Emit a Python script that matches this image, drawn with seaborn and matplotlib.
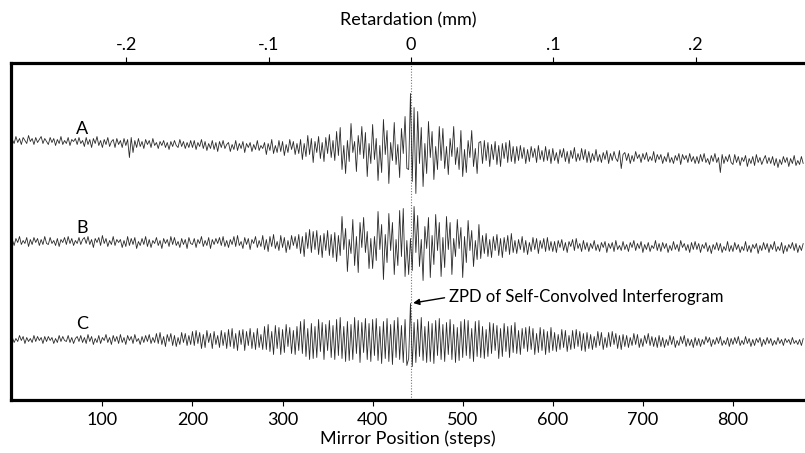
import numpy as np
import pandas as pd
import matplotlib
matplotlib.use("Agg")
import matplotlib.pyplot as plt
import seaborn as sns

# ---------------- data ----------------
# mirror positions, sampled every 2 steps (0 .. 878)
steps = np.arange(0, 880, 2)

# zero path difference and step -> retardation scale
zpd_step = 442.5
steps_per_mm = 1580.0
ret_ticks = [-0.2, -0.1, 0.0, 0.1, 0.2]
ret_labels = ["-.2", "-.1", "0", ".1", ".2"]
step_ticks = [100, 200, 300, 400, 500, 600, 700, 800]

# baseline level of each trace per 40-step block (22 blocks)
a_level = [260, 259, 258, 257, 256, 255, 254, 253, 252, 251, 250,
           249, 248, 247, 246, 245, 244, 243, 242, 241, 240, 239]
b_level = [159, 159, 159, 158, 158, 158, 158, 157, 157, 157, 156,
           156, 156, 155, 155, 155, 154, 154, 154, 153, 153, 153]
c_level = [61, 61, 61, 61, 61, 61, 61, 61, 61, 61, 60,
           60, 60, 60, 60, 60, 60, 60, 59, 59, 59, 59]

# interferogram A: deviations from baseline, 20 samples per 40-step block
a_signal = """
1 -3 4 -2 2 -4 3 0 -3 5 -1 2 -4 3 -2 1 4 -3 2 -1
-3 4 -1 3 -4 2 -2 5 -3 1 -2 4 -4 2 0 3 -3 4 -2 1
-4 5 -2 3 -5 4 -1 6 -3 2 -5 3 -2 5 -4 1 3 -5 4 -2
3 -4 5 -2 4 -14 6 -9 3 -4 5 -3 2 -5 4 -1 3 -4 5 -2
2 -4 3 -1 4 -3 2 -5 3 -2 4 -1 -3 5 -2 3 -4 2 -3 4
-2 5 -4 3 -1 6 -3 4 -5 2 -3 5 -4 3 -6 4 -2 5 -3 1
4 -5 2 -3 6 -4 3 -2 5 -6 3 -1 4 -5 2 -3 6 -4 1 -2
5 -7 4 -3 8 -6 2 -5 7 -4 6 -8 3 -5 8 -2 6 -7 4 -6
9 -11 5 -8 13 -6 10 -14 7 -4 12 -10 6 -13 11 -5 14 -9 8 -12
18 -6 22 -20 4 -24 9 -12 26 -3 8 -22 14 -5 23 -9 17 -27 6 -14
26 -9 12 -30 5 -22 31 -4 20 -33 8 -10 28 -14 6 -27 22 -3 34 -18
-18 58 -30 44 -42 40 -12 24 -35 8 -22 30 -6 20 -28 5 -18 25 -9 23
-16 6 -22 14 -4 26 -12 5 -17 22 -24 3 -20 12 -5 22 -14 4 -21 10
12 -10 13 -7 11 -13 9 -6 12 -11 8 -13 10 -5 11 -9 13 -8 7 -10
8 -6 9 -4 7 -9 5 -7 8 -3 6 -8 9 -5 4 -7 8 -6 5 -9
7 -5 3 -8 6 -2 7 -6 4 -8 5 -3 8 -6 2 -5 7 -4 6 -7
5 -6 3 -4 7 -5 2 -6 4 -3 6 -7 3 -4 5 -2 -5 6 -12 2
5 -3 4 -6 2 -4 6 -1 3 -5 4 -2 5 -4 1 -3 6 -5 3 -2
4 -5 2 -3 6 -4 1 -5 3 -2 5 -6 4 -1 3 -4 5 -3 2 -5
3 -4 5 -2 6 -3 1 -5 4 -2 6 -3 2 -13 5 -4 3 -2 5 -3
-4 6 -2 4 -5 3 -1 5 -6 2 -3 4 -5 6 -2 3 -4 1 5 -3
4 -2 5 -4 3 -6 2 -3 5 -1 4 -5 3 -2 6 -4 1 -3 5 -2
"""

# interferogram B
b_signal = """
2 -4 3 -1 5 -3 1 -2 4 -5 2 -3 4 -1 3 -4 2 -3 5 -2
-3 4 -2 1 -4 3 -5 2 -1 4 -3 5 -2 3 -4 1 -2 4 -3 2
4 -2 5 -3 2 -6 3 -1 4 -4 6 -2 3 -5 1 -3 5 -4 2 -1
3 -5 2 -4 6 -3 4 -2 5 -6 1 -3 4 -2 6 -4 3 -5 2 -1
5 -3 2 -6 4 -1 3 -4 6 -2 5 -3 1 -5 4 -2 3 -6 5 -1
-2 4 -5 3 -1 6 -4 2 -3 5 -6 3 -2 4 -1 5 -3 6 -4 2
-5 3 -2 6 -4 7 -3 1 -6 5 -2 4 -7 3 -1 6 -5 2 -4 7
-6 4 -8 7 -3 9 -5 2 -7 8 -4 6 -9 3 -6 8 -2 7 -5 9
-10 7 -13 11 -5 14 -9 12 -6 13 -11 8 -14 10 -7 13 -12 9 -14 11
-18 8 -12 27 -6 15 -28 4 -10 24 -22 7 -29 21 -4 26 -9 12 -25 5
-24 8 -16 33 -5 20 -35 10 -18 31 -6 22 -30 5 -21 34 -12 36 -32 4
-30 6 -26 38 -8 29 -22 5 -36 18 -4 27 -33 9 -20 30 -6 22 -32 7
-23 28 -5 22 -30 6 -12 25 -4 17 -33 8 -18 24 -6 14 -22 4 -15 20
-13 10 -8 12 -11 6 -12 9 -5 11 -10 7 -12 8 -6 10 -9 12 -7 5
-8 6 -4 9 -7 5 -9 3 -6 8 -4 7 -8 5 -3 7 -6 8 -5 4
-6 4 -7 5 -2 6 -5 3 -7 4 -1 6 -5 7 -3 2 -6 5 -4 3
-5 3 -2 6 -4 2 -5 4 -1 5 -6 3 -2 4 -5 6 -3 1 -4 5
-3 2 -5 4 -1 6 -4 3 -2 5 -6 2 -3 4 -5 1 -2 6 -4 3
-5 4 -2 3 -6 1 -4 5 -3 2 -5 6 -1 3 -4 2 -6 4 -3 5
-2 4 -5 3 -1 5 -4 2 -6 3 -2 5 -3 4 -5 1 -3 6 -4 2
-4 5 -2 3 -5 1 -3 6 -4 2 -5 3 -1 4 -6 2 -3 5 -2 4
-5 3 -2 6 -4 1 -3 5 -6 2 -4 3 -1 5 -3 4 -5 2 -3 4
"""

# self-convolved interferogram C
c_signal = """
2 -3 1 -2 4 -1 3 -4 2 -2 1 -3 4 -2 3 -1 2 -4 3 -2
3 -1 2 -4 1 -3 4 -2 3 -1 -2 4 -3 2 -4 1 3 -2 4 -3
2 -4 5 -2 3 -5 1 -3 4 -4 2 -1 5 -3 2 -5 4 -2 3 -4
5 -3 2 -5 4 -1 3 -4 5 -2 1 -5 3 -3 4 -2 5 -4 2 -3
6 -4 7 -5 3 -7 5 -2 6 -6 4 -7 2 -5 7 -3 6 -6 4 -5
8 -6 9 -4 7 -9 5 -8 9 -3 6 -9 8 -5 4 -8 9 -6 7 -9
10 -7 11 -9 6 -11 9 -5 10 -11 8 -6 11 -9 7 -10 11 -8 5 -10
13 -10 15 -12 8 -15 14 -9 12 -15 10 -13 15 -7 12 -14 9 -15 13 -11
18 -14 20 -17 11 -20 16 -19 13 -18 20 -12 17 -20 15 -11 19 -18 14 -20
20 -16 22 -19 13 -22 18 -21 15 -20 22 -14 19 -23 17 -13 21 -20 16 -22
21 -15 22 -20 14 -23 19 -18 22 -21 16 -24 20 -17 23 -19 15 -22 21 -25
-18 37 -26 18 -22 21 -16 23 -20 14 -22 19 -21 17 -23 20 -15 22 -19 16
-21 18 -14 21 -19 16 -22 13 -20 19 -17 21 -15 20 -18 12 -21 19 -16 20
-17 14 -18 11 -16 18 -13 17 -10 15 -18 12 -16 17 -11 14 -17 15 -12 18
-13 10 -14 12 -8 13 -11 14 -9 12 -14 7 -12 13 -10 11 -14 9 -12 13
-10 8 -11 6 -9 11 -7 10 -11 5 -9 10 -8 11 -6 9 -10 7 -11 8
-8 6 -9 4 -7 9 -5 8 -9 3 -7 8 -6 9 -4 7 -8 5 -9 6
-6 5 -7 3 -5 7 -4 6 -7 2 -6 5 -3 7 -5 4 -6 3 -7 5
-5 4 -6 2 -4 6 -3 5 -6 1 -4 5 -2 6 -5 3 -4 2 -6 4
-4 3 -5 2 -3 5 -1 4 -5 2 -3 4 -2 5 -4 1 -3 4 -5 3
-3 4 -2 5 -4 1 -3 5 -2 3 -5 2 -4 3 -1 4 -5 2 -3 4
-2 3 -4 1 -3 4 -2 2 -4 3 -1 2 -3 4 -2 1 -3 2 -4 3
"""

trace_names = ["A", "B", "C"]
annot_text = "ZPD of Self-Convolved Interferogram"


def build(signal_text, level):
    rows = [r.split() for r in signal_text.strip().splitlines()]
    for r in rows:
        assert len(r) == 20, len(r)
    vals = np.array([float(v) for r in rows for v in r])
    return vals + np.repeat(np.array(level, float), 20)


frames = []
for name, sig, lev in zip(trace_names, [a_signal, b_signal, c_signal],
                          [a_level, b_level, c_level]):
    frames.append(pd.DataFrame({"step": steps, "signal": build(sig, lev),
                                "trace": name}))
data = pd.concat(frames, ignore_index=True)

# ---------------- drawing ----------------
sns.set_theme(style="white")
plt.rcParams["font.family"] = ["Lato", "DejaVu Sans"]

fig = plt.figure(figsize=(8.05, 4.53), dpi=100)
ax = fig.add_axes([0.0134, 0.1159, 0.9866, 0.7461])

sns.lineplot(data=data, x="step", y="signal", units="trace", estimator=None,
             sort=False, color="#2a2a2a", linewidth=0.6, ax=ax)

ax.axvline(zpd_step, color="#777777", linestyle=(0, (1, 1.5)), linewidth=0.8,
           zorder=0)

ax.set_xlim(-1.7, 880)
ax.set_ylim(0, 338)
ax.set_yticks([])
ax.set_ylabel("")

for side in ["left", "top", "bottom"]:
    ax.spines[side].set_visible(True)
    ax.spines[side].set_linewidth(2.3)
    ax.spines[side].set_color("black")
ax.spines["right"].set_visible(False)

ax.set_xticks(step_ticks)
ax.tick_params(axis="x", which="both", bottom=True, top=False, direction="out",
               length=4, width=0.8, color="black", labelsize=13, pad=4,
               labelcolor="black")
ax.set_xlabel("Mirror Position (steps)", fontsize=13, labelpad=2, color="black")

sec = ax.secondary_xaxis(
    "top",
    functions=(lambda s: (s - zpd_step) / steps_per_mm,
               lambda r: r * steps_per_mm + zpd_step))
sec.set_xticks(ret_ticks, labels=ret_labels)
sec.tick_params(axis="x", direction="out", length=4, width=0.8, color="black",
                labelsize=13, pad=3, labelcolor="black")
sec.spines["top"].set_visible(False)
sec.set_xlabel("Retardation (mm)", fontsize=13, labelpad=8, color="black")

# trace letters
label_pos = {"A": 272, "B": 173, "C": 77}
for name in trace_names:
    ax.text(77, label_pos[name], name, fontsize=13, ha="center", va="center",
            color="black")

ax.annotate(annot_text, xy=(445, 97.5), xytext=(485, 103.5),
            fontsize=12, ha="left", va="center", color="black",
            arrowprops=dict(arrowstyle="-|>", color="black", lw=1.0,
                            mutation_scale=9, shrinkA=1, shrinkB=0,
                            relpos=(0, 0.5)))

fig.savefig("out.png", dpi=100)
